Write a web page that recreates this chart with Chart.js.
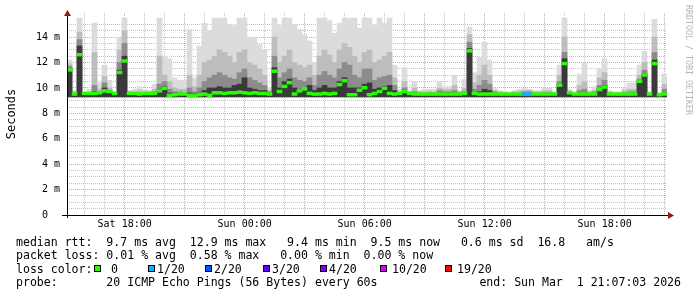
<!DOCTYPE html>
<html>
<head>
<meta charset="utf-8">
<script src="https://cdn.jsdelivr.net/npm/chart.js@4"></script>
<style>
  html, body { margin: 0; padding: 0; background: #fff; }
</style>
</head>
<body>
<canvas id="chart" width="697" height="297"></canvas>
<script>
/* DATA: one slot = 15 minutes, 120 slots from Sat 15:07:03 to Sun 21:07:03 (values in ms) */
const startHour = 15 + 7 / 60 + 3 / 3600;
const spanHours = 30;
const slotHours = 0.25;

const median = [
  11.4, 9.5, 12.6, 9.55, 9.55, 9.55, 9.6, 9.75, 9.7, 9.55,
  11.2, 12.1, 9.55, 9.55, 9.5, 9.55, 9.55, 9.55, 9.75, 9.95,
  9.4, 9.45, 9.5, 9.5, 9.4, 9.4, 9.45, 9.5, 9.4, 9.6,
  9.6, 9.55, 9.6, 9.6, 9.65, 9.6, 9.55, 9.6, 9.55, 9.55,
  9.5, 11.3, 9.7, 10.1, 10.4, 9.5, 9.75, 9.9, 9.55, 9.5,
  9.5, 9.55, 9.5, 9.55, 10.25, 10.55, 9.45, 9.45, 9.8, 10.0,
  9.45, 9.55, 9.7, 9.95, 9.55, 9.5, 9.55, 9.7, 9.55, 9.5,
  9.5, 9.5, 9.5, 9.5, 9.5, 9.5, 9.5, 9.5, 9.5, 9.55,
  12.9, 9.55, 9.5, 9.5, 9.5, 9.5, 9.5, 9.5, 9.5, 9.5,
  9.5, 9.48, 9.48, 9.5, 9.5, 9.5, 9.5, 9.5, 10.2, 11.9,
  9.6, 9.5, 9.5, 9.5, 9.5, 9.5, 9.85, 10.05, 9.5, 9.5,
  9.5, 9.5, 9.5, 9.5, 10.5, 11.0, 9.5, 11.9, 9.45, 9.5
];

// index into lossNames / lossColors
const lossLevel = [
  0, 0, 0, 0, 0, 0, 0, 0, 0, 0,
  0, 0, 0, 0, 0, 0, 0, 0, 0, 0,
  0, 0, 0, 0, 0, 0, 0, 0, 0, 0,
  0, 0, 0, 0, 0, 0, 0, 0, 0, 0,
  0, 0, 0, 0, 0, 0, 0, 0, 0, 0,
  0, 0, 0, 0, 0, 0, 0, 0, 0, 0,
  0, 0, 0, 0, 0, 0, 0, 0, 0, 0,
  0, 0, 0, 0, 0, 0, 0, 0, 0, 0,
  0, 0, 0, 0, 0, 0, 0, 0, 0, 0,
  0, 1, 1, 0, 0, 0, 0, 0, 0, 0,
  0, 0, 0, 0, 0, 0, 0, 0, 0, 0,
  0, 0, 0, 0, 0, 0, 0, 0, 0, 0
];

const smokeFloor = 9.3;

const smokeMax = [
  12.2, 9.8, 15.5, 9.7, 9.9, 15.1, 10.4, 11.8, 10.6, 9.7,
  14.0, 15.5, 9.8, 9.9, 10.1, 9.9, 9.8, 10.3, 15.5, 12.4,
  12.3, 10.8, 10.6, 10.6, 14.6, 10.8, 13.3, 15.1, 14.5, 15.5,
  15.5, 15.5, 15.0, 14.9, 15.5, 15.5, 14.0, 14.0, 13.4, 13.0,
  10.0, 15.5, 14.9, 15.5, 15.5, 15.0, 14.6, 14.2, 13.7, 12.0,
  15.5, 15.5, 15.3, 14.3, 15.1, 15.5, 15.5, 15.5, 14.7, 15.5,
  15.5, 14.9, 15.5, 15.1, 15.5, 11.8, 9.9, 11.6, 9.8, 10.5,
  9.8, 9.9, 9.9, 9.9, 10.5, 10.1, 10.1, 11.0, 9.8, 10.7,
  14.8, 11.2, 12.4, 13.6, 12.2, 9.95, 9.8, 9.75, 9.7, 9.8,
  9.9, 9.95, 9.9, 9.8, 9.8, 10.0, 10.0, 9.7, 11.8, 15.5,
  9.9, 9.7, 11.1, 12.0, 9.8, 10.1, 11.5, 12.3, 9.8, 9.7,
  9.7, 10.0, 10.4, 10.4, 11.8, 12.9, 9.7, 15.4, 9.6, 11.1
];

const smokeHi = [
  11.9, 9.7, 14.4, 9.6, 9.7, 12.8, 9.9, 10.9, 10.0, 9.6,
  13.0, 14.5, 9.7, 9.7, 9.8, 9.7, 9.7, 9.9, 12.5, 11.0,
  10.5, 10.0, 9.9, 9.9, 11.0, 10.1, 11.0, 12.0, 12.2, 12.5,
  13.0, 12.8, 12.5, 12.0, 12.8, 13.0, 12.0, 11.8, 11.5, 11.0,
  9.8, 14.0, 12.0, 12.5, 13.0, 12.0, 11.8, 11.6, 11.8, 11.0,
  12.5, 13.0, 12.6, 12.0, 13.0, 13.5, 13.2, 12.5, 12.0, 12.8,
  13.0, 12.0, 12.2, 12.5, 12.8, 10.8, 9.7, 10.5, 9.7, 10.0,
  9.7, 9.7, 9.75, 9.7, 10.0, 9.9, 9.9, 10.2, 9.7, 10.0,
  14.2, 10.4, 11.0, 11.8, 11.0, 9.8, 9.7, 9.65, 9.6, 9.7,
  9.75, 9.8, 9.8, 9.7, 9.7, 9.8, 9.8, 9.6, 11.0, 14.0,
  9.7, 9.6, 10.2, 10.5, 9.7, 9.8, 10.8, 11.2, 9.7, 9.6,
  9.6, 9.8, 9.9, 9.9, 11.0, 12.0, 9.6, 14.0, 9.55, 10.3
];

const smokeMid = [
  11.7, 9.6, 13.8, 9.55, 9.6, 10.2, 9.7, 10.4, 9.8, 9.55,
  12.0, 13.5, 9.6, 9.6, 9.6, 9.6, 9.6, 9.7, 10.3, 10.5,
  9.9, 9.7, 9.7, 9.6, 10.0, 9.7, 10.0, 10.5, 10.8, 11.0,
  11.2, 11.0, 10.8, 10.7, 11.2, 11.5, 10.8, 10.6, 10.4, 10.2,
  9.7, 12.5, 10.8, 11.2, 11.5, 10.8, 10.6, 10.5, 10.8, 10.2,
  11.0, 11.3, 11.0, 10.8, 11.5, 12.0, 11.8, 11.0, 10.8, 11.5,
  11.5, 10.6, 10.8, 10.9, 11.0, 10.2, 9.6, 10.0, 9.6, 9.7,
  9.6, 9.6, 9.6, 9.6, 9.8, 9.7, 9.7, 9.8, 9.6, 9.7,
  13.6, 9.9, 10.2, 10.6, 10.3, 9.7, 9.6, 9.55, 9.55, 9.6,
  9.6, 9.7, 9.7, 9.6, 9.6, 9.65, 9.65, 9.55, 10.5, 12.8,
  9.6, 9.55, 9.8, 9.9, 9.6, 9.7, 10.2, 10.6, 9.6, 9.55,
  9.55, 9.6, 9.7, 9.7, 10.7, 11.4, 9.55, 12.8, 9.5, 9.9
];

const smokeDark = [
  11.5, 9.5, 13.3, 9.5, 9.5, 9.7, 9.6, 10.0, 9.7, 9.5,
  11.4, 12.5, 9.5, 9.5, 9.5, 9.5, 9.5, 9.6, 9.9, 10.1,
  9.6, 9.6, 9.55, 9.5, 9.6, 9.55, 9.6, 9.8, 10.0, 10.0,
  10.1, 10.0, 10.0, 10.2, 10.3, 10.8, 10.0, 9.9, 9.8, 9.8,
  9.6, 11.6, 10.0, 10.5, 10.7, 10.0, 9.9, 9.9, 10.2, 9.8,
  10.0, 10.2, 10.0, 10.0, 10.5, 10.8, 10.0, 10.0, 10.0, 10.3,
  10.4, 9.9, 10.0, 10.1, 10.2, 9.8, 9.5, 9.7, 9.5, 9.55,
  9.5, 9.5, 9.5, 9.5, 9.6, 9.6, 9.6, 9.6, 9.5, 9.55,
  13.1, 9.6, 9.7, 9.9, 9.8, 9.55, 9.5, 9.5, 9.5, 9.5,
  9.5, 9.55, 9.55, 9.5, 9.5, 9.5, 9.5, 9.5, 10.3, 12.3,
  9.5, 9.5, 9.6, 9.6, 9.5, 9.55, 9.95, 10.2, 9.5, 9.5,
  9.5, 9.5, 9.55, 9.55, 10.6, 11.1, 9.5, 12.2, 9.45, 9.6
];

const xLabelHours = [18, 24, 30, 36, 42];
const xLabels = ["Sat 18:00", "Sun 00:00", "Sun 06:00", "Sun 12:00", "Sun 18:00"];
const yLabelValues = [0, 2, 4, 6, 8, 10, 12, 14];
const yLabels = ["0  ", "2 m", "4 m", "6 m", "8 m", "10 m", "12 m", "14 m"];

const lossNames = ["0", "1/20", "2/20", "3/20", "4/20", "10/20", "19/20"];
const lossColors = ["#26ff00", "#00b8ff", "#0059ff", "#5e00ff", "#7e00ff", "#dd00ff", "#ff0000"];

const statLines = [
  "median rtt:  9.7 ms avg  12.9 ms max   9.4 ms min  9.5 ms now   0.6 ms sd  16.8   am/s",
  "packet loss: 0.01 % avg  0.58 % max   0.00 % min  0.00 % now"
];
const probeText = "probe:       20 ICMP Echo Pings (56 Bytes) every 60s";
const endText = "end: Sun Mar  1 21:07:03 2026";

/* BUILD DATASETS */
const slotTime = median.map((m, i) => startHour + (i + 0.5) * slotHours);

function band(top) {
  return slotTime.map((t, i) => ({ x: t, y: [smokeFloor, top[i]] }));
}

const MONO = '"DejaVu Sans Mono", monospace';
const minorGrid = "rgba(120,120,120,0.45)";
const majorGrid = "rgba(210,90,90,0.6)";

/* DECORATION: axes, arrows, titles, legend text */
const decor = {
  id: "decor",
  beforeDraw(chart) {
    const ctx = chart.ctx;
    ctx.save();
    ctx.fillStyle = "#fff";
    ctx.fillRect(0, 0, chart.width, chart.height);
    ctx.restore();
  },
  afterDraw(chart) {
    const { ctx, chartArea: a } = chart;
    const bx = Math.round(a.left) + 0.5;
    const by = Math.round(a.bottom) + 0.5;
    ctx.save();

    // axes
    ctx.strokeStyle = "#000";
    ctx.lineWidth = 1;
    ctx.beginPath();
    ctx.moveTo(a.left - 5, by);
    ctx.lineTo(a.right + 2, by);
    ctx.moveTo(bx, a.bottom + 3);
    ctx.lineTo(bx, a.top);
    ctx.stroke();

    // arrows
    ctx.fillStyle = "#8e1b1b";
    ctx.beginPath();
    ctx.moveTo(a.right + 1, by - 3.5);
    ctx.lineTo(a.right + 1, by + 3.5);
    ctx.lineTo(a.right + 7, by);
    ctx.closePath();
    ctx.fill();
    ctx.beginPath();
    ctx.moveTo(bx - 3.5, a.top + 3);
    ctx.lineTo(bx + 3.5, a.top + 3);
    ctx.lineTo(bx, a.top - 3);
    ctx.closePath();
    ctx.fill();

    // y title
    ctx.fillStyle = "#000";
    ctx.font = "12px " + MONO;
    ctx.save();
    ctx.translate(15, 114);
    ctx.rotate(-Math.PI / 2);
    ctx.textAlign = "center";
    ctx.textBaseline = "alphabetic";
    ctx.fillText("Seconds", 0, 0);
    ctx.restore();

    // watermark
    ctx.save();
    ctx.fillStyle = "#b4b4b4";
    ctx.font = "8.3px " + MONO;
    ctx.translate(688.5, 5);
    ctx.rotate(Math.PI / 2);
    ctx.textAlign = "left";
    ctx.textBaseline = "middle";
    ctx.fillText("RRDTOOL / TOBI OETIKER", 0, 0);
    ctx.restore();

    // legend
    ctx.fillStyle = "#000";
    ctx.font = "11.56px " + MONO;
    ctx.textAlign = "left";
    ctx.textBaseline = "alphabetic";
    ctx.fillText(statLines[0], 16, 245.5);
    ctx.fillText(statLines[1], 16, 259);
    ctx.fillText("loss color:", 16, 272.5);
    const boxX = [94, 148, 205, 263, 320, 380, 445];
    const textX = [111, 157, 214, 272, 329, 392, 457];
    lossNames.forEach((n, i) => {
      ctx.fillStyle = lossColors[i];
      ctx.fillRect(boxX[i], 265, 7, 7);
      ctx.strokeStyle = "#000";
      ctx.strokeRect(boxX[i] + 0.5, 265.5, 6, 6);
      ctx.fillStyle = "#000";
      ctx.fillText(n, textX[i], 272.5);
    });
    ctx.fillText(probeText, 16, 286);
    ctx.textAlign = "right";
    ctx.fillText(endText, 681, 286);
    ctx.restore();
  }
};

/* CHART */
new Chart(document.getElementById("chart"), {
  type: "bar",
  data: {
    datasets: [
      {
        label: "median",
        data: slotTime.map((t, i) => ({ x: t, y: [median[i] - 0.09, median[i] + 0.13] })),
        backgroundColor: lossLevel.map(l => lossColors[l])
      },
      { label: "dark", data: band(smokeDark), backgroundColor: "#3a3a3a" },
      { label: "mid", data: band(smokeMid), backgroundColor: "#8c8c8c" },
      { label: "hi", data: band(smokeHi), backgroundColor: "#bdbdbd" },
      { label: "max", data: band(smokeMax), backgroundColor: "#dcdcdc" }
    ]
  },
  options: {
    responsive: false,
    animation: false,
    devicePixelRatio: 1,
    layout: { padding: { top: 10, right: 30, bottom: 0, left: 0 } },
    plugins: { legend: { display: false }, tooltip: { enabled: false } },
    datasets: {
      bar: { grouped: false, barPercentage: 1, categoryPercentage: 1, borderWidth: 0 }
    },
    scales: {
      x: {
        type: "linear",
        min: startHour,
        max: startHour + spanHours,
        offset: false,
        z: 1,
        afterBuildTicks: s => {
          const ticks = [];
          for (let h = Math.ceil(startHour); h <= startHour + spanHours; h++) ticks.push({ value: h });
          s.ticks = ticks;
        },
        afterFit: s => { s.height = 82; },
        grid: {
          offset: false,
          color: c => (c.tick && c.tick.value % 3 === 0 ? majorGrid : minorGrid),
          lineWidth: 1,
          drawTicks: false
        },
        border: { display: false, dash: [1, 1] },
        ticks: {
          autoSkip: false,
          maxRotation: 0,
          padding: 3,
          color: "#000",
          font: { family: MONO, size: 10 },
          callback: v => {
            const k = xLabelHours.indexOf(v);
            return k >= 0 ? xLabels[k] : "";
          }
        }
      },
      y: {
        min: 0,
        max: 15.9,
        z: 1,
        afterBuildTicks: s => {
          const ticks = [];
          for (let k = 0; k <= 30; k++) ticks.push({ value: k / 2 });
          s.ticks = ticks;
        },
        afterFit: s => { s.width = 67; },
        grid: {
          color: c => (c.tick && c.tick.value % 2 === 0 ? majorGrid : minorGrid),
          lineWidth: 1,
          drawTicks: false
        },
        border: { display: false, dash: [1, 1] },
        ticks: {
          autoSkip: false,
          padding: 7,
          color: "#000",
          font: { family: MONO, size: 10 },
          callback: v => {
            const k = yLabelValues.indexOf(v);
            return k >= 0 ? yLabels[k] : "";
          }
        }
      }
    }
  },
  plugins: [decor]
});
</script>
</body>
</html>
